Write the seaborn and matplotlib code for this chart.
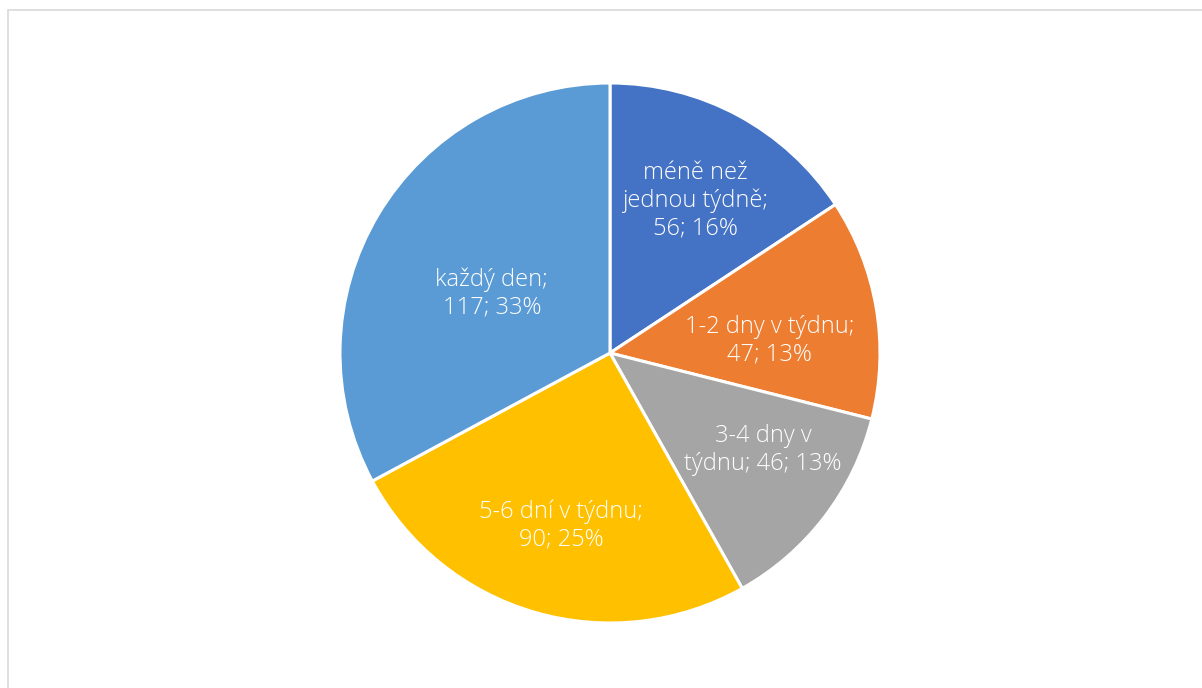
import matplotlib
matplotlib.use("Agg")
import matplotlib.pyplot as plt
import seaborn as sns
import numpy as np
from matplotlib.patches import Rectangle

# Survey answers: how often
categories = ["méně než\njednou týdně", "1-2 dny v týdnu", "3-4 dny v\ntýdnu", "5-6 dní v týdnu", "každý den"]
counts = [56, 47, 46, 90, 117]
percents = [16, 13, 13, 25, 33]
# how each label joins name and numbers (line break or space)
label_breaks = ["\n", "\n", " ", "\n", "\n"]
colors = ["#4472C4", "#ED7D31", "#A5A5A5", "#FFC000", "#5B9BD5"]

sns.set_theme(style="white")
plt.rcParams["font.family"] = ["Open Sans", "DejaVu Sans"]

W, H = 1202, 688
fig = plt.figure(figsize=(W / 100, H / 100), dpi=100)
ax = fig.add_axes([0, 0, 1, 1])

cx, cy, R = 610, H - 353, 270
wedges, _ = ax.pie(
    counts,
    colors=sns.color_palette(colors),
    startangle=90,
    counterclock=False,
    center=(cx, cy),
    radius=R,
    frame=True,
    wedgeprops=dict(edgecolor="white", linewidth=2.2),
)
ax.set_xlim(0, W)
ax.set_ylim(0, H)
ax.set_aspect("equal")
ax.axis("off")

# distance of each label from the centre, as a fraction of the radius
label_r = [0.65, 0.60, 0.64, 0.65, 0.51]
# small nudges of each label block, in pixels
label_dx = [2, 0, 16, 0, 0]
label_dy = [-2, -15, 8, -4, -11]
for w, cat, n, p, sep, rf, dx, dy in zip(wedges, categories, counts, percents,
                                         label_breaks, label_r, label_dx, label_dy):
    mid = np.deg2rad((w.theta1 + w.theta2) / 2)
    x = cx + rf * R * np.cos(mid) + dx
    y = cy + rf * R * np.sin(mid) + dy
    ax.text(x, y, f"{cat};{sep}{n}; {p}%", color="white", fontsize=17,
            fontweight="light", ha="center", va="center", linespacing=1.18)

# outer chart frame
fig.patches.append(Rectangle((8 / W, -0.1), 1.2, (H - 10) / H + 0.1,
                             transform=fig.transFigure, fill=False,
                             edgecolor="#D9D9D9", linewidth=1.2))

fig.savefig("out.png", dpi=100)
